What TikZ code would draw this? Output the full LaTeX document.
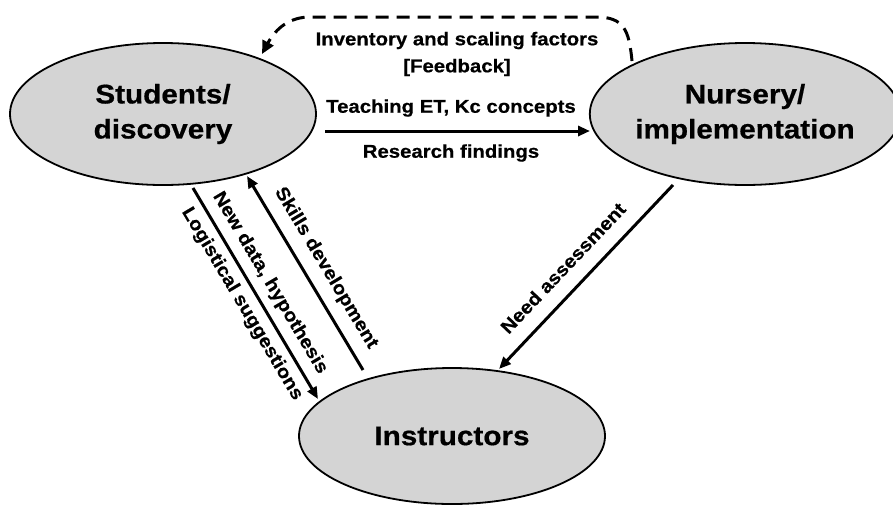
\documentclass[tikz,border=0pt]{standalone}
\usepackage{fontspec}
\setmainfont[FakeStretch=1.1,BoldFeatures={FakeBold=0.6}]{Liberation Sans}
\usetikzlibrary{arrows.meta,shapes.geometric}
\begin{document}
\begin{tikzpicture}[x=1pt,y=-1pt,
  blob/.style={ellipse,draw=black,line width=1.8pt,fill=black!17,inner sep=0pt,
    font=\bfseries\fontsize{27}{35}\selectfont,align=center},
  lbl/.style={font=\bfseries\fontsize{18.5}{27}\selectfont,inner sep=0pt,align=center},
  conn/.style={line width=3pt,-{Triangle[length=12pt,width=10pt]}},
  plain/.style={line width=3pt}
]
\useasboundingbox (0,0) rectangle (893,504);
\node[blob,minimum width=306pt,minimum height=142pt] (S) at (163,114) {Students/\\discovery};
\node[blob,minimum width=296pt,minimum height=142pt] (N) at (745,114) {Nursery/\\implementation};
\node[blob,minimum width=306pt,minimum height=136pt] (I) at (452,436) {Instructors};

% horizontal arrow
\coordinate (h1) at (325,131);
\coordinate (h2) at (590,131);
\draw[conn] (h1) -- (h2);
\node[lbl] (t1) at (451,108) {Teaching ET, Kc concepts};
\node[lbl] (t2) at (451,153) {Research findings};

% dashed feedback
\coordinate (d1) at (632,61);
\coordinate (d2) at (262,54);
\draw[line width=3pt,dash pattern=on 13pt off 8pt,-{Triangle[length=13pt,width=12pt]}]
  (d1) .. controls (629,30) and (624,17) .. (596,17) -- (310,17)
  .. controls (290,17) and (276,28) .. (d2);
\node[lbl] (fb) at (457,54) {Inventory and scaling factors\\{[}Feedback{]}};

% left pair
\coordinate (a1) at (193,188);
\coordinate (a2) at (318,399);
\draw[conn] (a1) -- (a2);
\coordinate (b1) at (363,370);
\coordinate (b2) at (247,176);
\draw[conn] (b1) -- (b2);
\node[lbl,rotate=-59.3] (nd) at (270,283) {New data, hypothesis};
\node[lbl,rotate=-59.3] (ls) at (242,304) {Logistical suggestions};
\node[lbl,rotate=-59.1] (sd) at (326,268) {Skills development};

% need assessment
\coordinate (c1) at (673,185);
\coordinate (c2) at (499,369);
\draw[conn] (c1) -- (c2);
\node[lbl,rotate=46.5] (na) at (563,268) {Need assessment};
\end{tikzpicture}
\end{document}
